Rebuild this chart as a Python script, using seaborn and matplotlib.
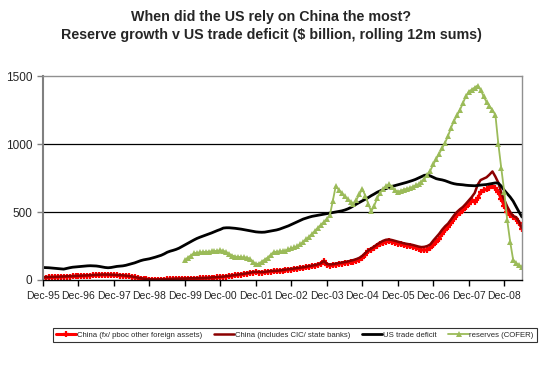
import numpy as np
import pandas as pd
import seaborn as sns
import matplotlib.pyplot as plt

# monthly points, Dec-95 onwards (month index 0 = Dec-95)
tick_labels = ["Dec-95", "Dec-96", "Dec-97", "Dec-98", "Dec-99", "Dec-00", "Dec-01",
               "Dec-02", "Dec-03", "Dec-04", "Dec-05", "Dec-06", "Dec-07", "Dec-08"]

us_deficit = [
    92, 91, 90, 88, 86, 84, 82, 80, 85, 90, 94, 96,
    98, 100, 102, 104, 105, 104, 103, 100, 96, 92, 90, 92,
    96, 100, 102, 104, 108, 114, 120, 126, 134, 142, 148, 152,
    156, 162, 168, 175, 182, 192, 204, 212, 218, 225, 234, 246,
    258, 270, 282, 294, 305, 314, 322, 330, 338, 346, 355, 364,
    372, 382, 384, 384, 382, 380, 377, 374, 370, 366, 362, 358,
    354, 352, 351, 352, 356, 360, 364, 368, 374, 382, 390, 398,
    408, 418, 428, 438, 448, 455, 462, 468, 472, 476, 480, 484,
    488, 492, 496, 500, 504, 508, 514, 522, 532, 545, 558, 570,
    582, 594, 606, 620, 632, 645, 655, 664, 672, 680, 688, 694,
    700, 706, 712, 718, 725, 732, 740, 750, 760, 770, 772, 765,
    755, 745, 740, 736, 730, 722, 714, 708, 704, 702, 700, 697,
    695, 694, 693, 695, 698, 700, 702, 706, 710, 714, 712, 690,
    660, 635, 610, 580, 540, 500, 463]

china_fx = [
    18, 18, 19, 20, 20, 21, 22, 23, 24, 25, 26, 27,
    28, 29, 30, 31, 32, 34, 35, 36, 37, 37, 37, 36,
    35, 34, 33, 31, 29, 26, 23, 19, 15, 11, 7, 5,
    3, 2, 2, 2, 3, 3, 4, 5, 6, 7, 7, 8,
    8, 9, 10, 10, 11, 12, 12, 13, 14, 16, 17, 19,
    20, 22, 25, 28, 31, 34, 37, 40, 43, 47, 51, 55,
    56, 55, 54, 56, 59, 62, 63, 64, 65, 68, 71, 74,
    76, 79, 82, 85, 88, 92, 96, 100, 104, 110, 120, 139,
    110, 105, 108, 112, 116, 120, 124, 127, 131, 136, 142, 150,
    163, 185, 210, 222, 235, 250, 262, 274, 282, 285, 281, 275,
    268, 262, 256, 252, 248, 244, 238, 230, 222, 220, 224, 235,
    255, 278, 305, 340, 365, 390, 420, 450, 475, 495, 512, 535,
    560, 586, 573, 600, 646, 660, 668, 680, 690, 675, 646, 595,
    545, 500, 476, 465, 452, 420, 378]

china_cic = [
    20, 21, 22, 23, 23, 24, 25, 26, 27, 28, 29, 30,
    31, 32, 33, 34, 35, 37, 38, 39, 40, 40, 40, 39,
    38, 37, 36, 34, 32, 29, 26, 22, 18, 14, 10, 8,
    6, 5, 5, 5, 6, 6, 7, 8, 9, 10, 10, 11,
    11, 12, 13, 13, 14, 15, 15, 16, 17, 19, 20, 22,
    23, 25, 28, 31, 34, 37, 40, 43, 46, 50, 54, 58,
    60, 59, 58, 60, 63, 66, 67, 68, 70, 73, 76, 79,
    82, 85, 88, 91, 94, 98, 102, 106, 110, 116, 124, 140,
    118, 114, 116, 120, 124, 128, 132, 136, 141, 147, 154, 163,
    178, 198, 218, 232, 246, 262, 276, 288, 296, 298, 294, 288,
    282, 276, 270, 266, 262, 258, 252, 246, 242, 244, 250, 262,
    290, 315, 340, 370, 395, 415, 445, 475, 500, 520, 537, 560,
    585, 610, 640, 700, 735, 745, 755, 775, 798, 760, 715, 640,
    590, 540, 500, 470, 462, 430, 380]

# COFER reserves start at month 48 (Dec-99)
cofer_start = 48
cofer = [
    146, 165, 180, 195, 200, 203, 205, 207, 208, 210, 212, 215,
    218, 215, 205, 192, 180, 172, 170, 168, 166, 165, 155, 135,
    118, 120, 135, 150, 165, 185, 205, 208, 210, 212, 215, 225,
    232, 240, 250, 262, 280, 300, 318, 338, 360, 385, 405, 425,
    450, 475, 580, 690, 665, 640, 615, 595, 575, 560, 590, 630,
    670, 620, 560, 505, 545, 600, 640, 670, 690, 703, 685, 660,
    650, 655, 665, 670, 675, 685, 695, 705, 720, 745, 775, 805,
    850, 890, 930, 970, 1010, 1060, 1120, 1170, 1210, 1250, 1300, 1350,
    1385, 1400, 1415, 1430, 1400, 1350, 1310, 1280, 1250, 1215, 1000, 820,
    650, 440, 280, 150, 125, 110, 95]

months = np.arange(len(us_deficit))
cofer_months = np.arange(cofer_start, cofer_start + len(cofer))

sns.set_style("white")
plt.rcParams['font.family'] = ['Liberation Sans', 'DejaVu Sans']

fig = plt.figure(figsize=(5.42, 3.69), dpi=100)
ax = fig.add_axes([43 / 542, 1 - 280 / 369, 479 / 542, 204 / 369])

red, darkred, green = "#FF0000", "#8B0000", "#9BBB59"
sns.lineplot(x=months, y=china_fx, ax=ax, color=red, lw=2.2, marker="+",
             markersize=5, markeredgewidth=1.6, markeredgecolor=red,
             label="China (fx/ pboc other foreign assets)")
sns.lineplot(x=months, y=china_cic, ax=ax, color=darkred, lw=1.8,
             label="China (includes CIC/ state banks)")
sns.lineplot(x=months, y=us_deficit, ax=ax, color="black", lw=2,
             label="US trade deficit")
sns.lineplot(x=cofer_months, y=cofer, ax=ax, color=green, lw=1.3, marker="^",
             markersize=5, markeredgewidth=0, markeredgecolor=green, label="reserves (COFER)")

ax.set_xlim(0, len(us_deficit) - 1)
ax.set_ylim(0, 1500)
ax.set_yticks([0, 500, 1000, 1500])
ax.set_xticks(np.arange(0, 157, 12))
ax.set_xticklabels(tick_labels, fontsize=7.5)
ax.tick_params(axis="y", labelsize=8.5, length=4, width=1, color="#808080", direction="out", left=True)
ax.tick_params(axis="x", length=4, width=1, color="black", direction="out", bottom=True, pad=4)
ax.set_xlabel("")
ax.set_ylabel("")
for y in (500, 1000):
    ax.axhline(y, color="black", lw=0.9, zorder=0)

ax.spines["left"].set_color("#808080")
ax.spines["left"].set_linewidth(1.5)
ax.spines["bottom"].set_color("black")
ax.spines["bottom"].set_linewidth(1)
for s in ("top", "right"):
    ax.spines[s].set_color("#909090")
    ax.spines[s].set_linewidth(1)

fig.text(0.5, 1 - 17 / 369, "When did the US rely on China the most?", ha="center", va="center",
         fontsize=10.3, fontweight="bold")
fig.text(0.5, 1 - 35 / 369, "Reserve growth v US trade deficit ($ billion, rolling 12m sums)",
         ha="center", va="center", fontsize=10.3, fontweight="bold")

leg = ax.legend(loc="center", bbox_to_anchor=(295 / 542, 1 - 335 / 369), bbox_transform=fig.transFigure,
                ncol=4, fontsize=5.6, frameon=True, fancybox=False, handlelength=2.6,
                handletextpad=0.1, columnspacing=1.5, borderpad=0.4)
leg.get_frame().set_edgecolor("black")
leg.get_frame().set_linewidth(0.8)

fig.savefig("out.png", dpi=100)
